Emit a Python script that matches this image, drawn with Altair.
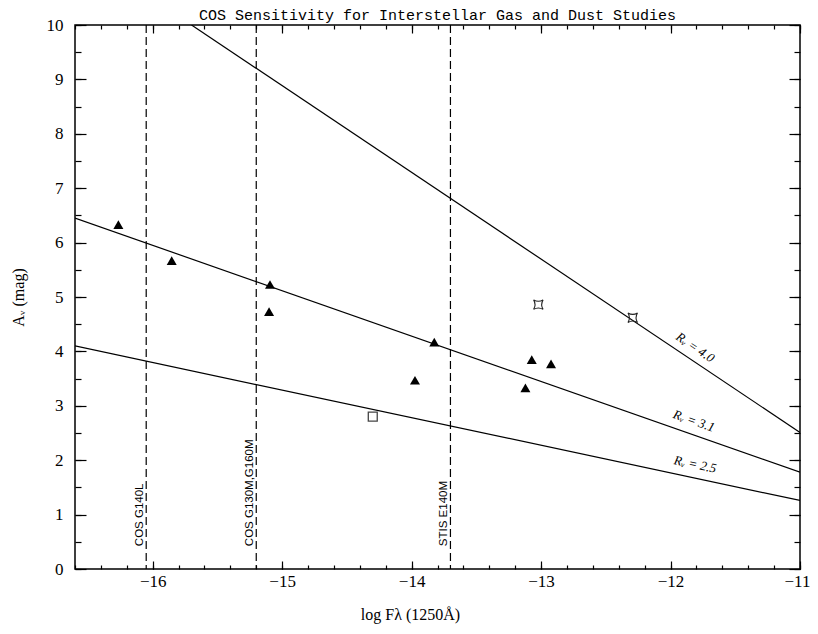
import altair as alt
import pandas as pd

# ---------------- data ----------------
X_DOMAIN = [-16.6, -11.0]
Y_DOMAIN = [0, 10]

x_major = [-16, -15, -14, -13, -12, -11]
x_minor = [round(-16.6 + 0.2 * i, 1) for i in range(29)]
y_major = list(range(0, 11))
y_minor = [i * 0.5 for i in range(21)]

# extinction-law lines (end points)
rv_names = ["4.0", "4.0", "3.1", "3.1", "2.5", "2.5"]
rv_x = [-15.70, -11.0, -16.6, -11.0, -16.6, -11.0]
rv_a = [10.0, 2.51, 6.45, 1.78, 4.10, 1.26]

# instrument limits
inst_names = ["COS  G140L", "COS  G130M,G160M", "STIS  E140M"]
inst_x = [-16.05, -15.20, -13.70]
inst_label_a = [0.42, 0.42, 0.42]

# observed targets
tri_x = [-16.265, -15.853, -15.094, -15.101, -13.825, -13.974, -13.072, -12.923, -13.121]
tri_a = [6.33, 5.67, 5.23, 4.73, 4.17, 3.47, 3.85, 3.77, 3.33]
sq_x = [-14.30]
sq_a = [2.80]
star_x = [-13.021, -12.292]
star_a = [4.86, 4.62]

# line labels
rvlab_text = ["Rᵥ  =  4.0", "Rᵥ  =  3.1", "Rᵥ  =  2.5"]
rvlab_x = [-11.81, -11.82, -11.81]
rvlab_a = [4.07, 2.72, 1.92]

# ---------------- tables ----------------
lines_df = pd.DataFrame({"rv": rv_names, "x": rv_x, "a": rv_a})
inst_df = pd.DataFrame({"name": inst_names, "x": inst_x, "a": inst_label_a})
tri_df = pd.DataFrame({"x": tri_x, "a": tri_a})
sq_df = pd.DataFrame({"x": sq_x, "a": sq_a})
star_df = pd.DataFrame({"x": star_x, "a": star_a})
rvlab_df = pd.DataFrame({"t": rvlab_text, "x": rvlab_x, "a": rvlab_a})
carrier_df = pd.DataFrame({"x": [-14.0], "a": [5.0]})

xs = alt.Scale(domain=X_DOMAIN, nice=False, zero=False)
ys = alt.Scale(domain=Y_DOMAIN, nice=False, zero=False)

SERIF = "Liberation Serif"
common = dict(domain=False, grid=False, tickColor="black", tickWidth=1.2,
              labelOverlap=False)


def carrier(xaxis, yaxis):
    return alt.Chart(carrier_df).mark_point(opacity=0).encode(
        x=alt.X("x:Q", scale=xs, axis=xaxis),
        y=alt.Y("a:Q", scale=ys, axis=yaxis),
    )


ax_bottom = alt.Axis(orient="bottom", values=x_major, tickSize=8, offset=-8,
                     labelFont=SERIF, labelFontSize=17, labelPadding=4, labelColor="black",
                     labelFlush=True, labelFlushOffset=10,
                     title="log Fλ (1250Å)", titleFont=SERIF, titleFontSize=16,
                     titleFontWeight="normal", titleColor="black", titlePadding=17,
                     titleX=335, format="d", **common)
ax_left = alt.Axis(orient="left", values=y_major, tickSize=11, offset=-11,
                   labelFont=SERIF, labelFontSize=17, labelPadding=12, labelColor="black",
                   labelFlush=False,
                   title="Aᵥ (mag)", titleFont=SERIF, titleFontSize=16,
                   titleFontWeight="normal", titleColor="black", titlePadding=20,
                   format="d", **common)
ax_bottom_minor = alt.Axis(orient="bottom", values=x_minor, tickSize=4, offset=-4,
                           labels=False, title=None, **common)
ax_left_minor = alt.Axis(orient="left", values=y_minor, tickSize=6, offset=-6,
                         labels=False, title=None, **common)
ax_top = alt.Axis(orient="top", values=x_major, tickSize=8, offset=-8,
                  labels=False, title=None, **common)
ax_right = alt.Axis(orient="right", values=y_major, tickSize=11, offset=-11,
                    labels=False, title=None, **common)
ax_top_minor = alt.Axis(orient="top", values=x_minor, tickSize=4, offset=-4,
                        labels=False, title=None, **common)
ax_right_minor = alt.Axis(orient="right", values=y_minor, tickSize=6, offset=-6,
                          labels=False, title=None, **common)

c1 = carrier(ax_bottom, ax_left)
c2 = carrier(ax_bottom_minor, ax_left_minor)
c3 = carrier(ax_top, ax_right)
c4 = carrier(ax_top_minor, ax_right_minor)

X = lambda: alt.X("x:Q", scale=xs, axis=None)
Y = lambda: alt.Y("a:Q", scale=ys, axis=None)

lines = alt.Chart(lines_df).mark_line(color="black", strokeWidth=1.2, clip=True).encode(
    x=X(), y=Y(), detail="rv:N")

rules = alt.Chart(inst_df).mark_rule(color="black", strokeWidth=1.2, strokeDash=[8, 4]).encode(
    x=X())

inst_text = alt.Chart(inst_df).mark_text(
    angle=270, align="left", baseline="bottom", dy=-1,
    font="Liberation Sans", fontSize=11.5, color="black").encode(
    x=X(), y=Y(), text="name:N")

tri = alt.Chart(tri_df).mark_point(shape="triangle-up", filled=True, size=100,
                                   color="black", opacity=1).encode(x=X(), y=Y())
sq = alt.Chart(sq_df).mark_point(shape="square", filled=False, size=80,
                                 color="#444", strokeWidth=1.3, opacity=1).encode(x=X(), y=Y())
STAR = "M-1,-1Q0,-0.4 1,-1Q0.4,0 1,1Q0,0.4 -1,1Q-0.4,0 -1,-1Z"
star = alt.Chart(star_df).mark_point(shape=STAR, filled=False, size=90,
                                     color="#222", strokeWidth=1.1, opacity=1).encode(x=X(), y=Y())

rv_angles = [34, 19, 12]
rv_layers = []
for i, ang in enumerate(rv_angles):
    rv_layers.append(
        alt.Chart(rvlab_df.iloc[[i]]).mark_text(
            angle=ang, align="center", baseline="middle", font=SERIF,
            fontStyle="italic", fontSize=13, color="black").encode(
            x=X(), y=Y(), text="t:N"))

chart = alt.layer(c1, c2, c3, c4, lines, rules, inst_text, tri, sq, star, *rv_layers).resolve_axis(
    x="independent", y="independent"
).properties(
    width=725, height=544,
    autosize=alt.AutoSizeParams(type="none"),
    padding={"left": 67, "top": 17, "right": 10, "bottom": 56},
    background="white",
    title=alt.TitleParams("COS Sensitivity for Interstellar Gas and Dust Studies",
                          font="Liberation Mono", fontSize=15, fontWeight="normal",
                          color="black", anchor="middle", frame="group", offset=6, dy=13),
).configure_view(stroke="black", strokeWidth=1.5)

chart.save("out.html", embed_options={"renderer": "svg", "actions": False})
